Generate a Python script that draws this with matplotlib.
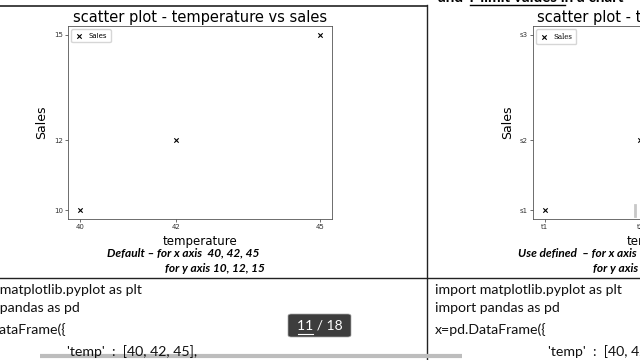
import matplotlib.pyplot as plt
import matplotlib.patches as patches
from matplotlib.lines import Line2D

# data
temp = [40, 42, 45]
sales = [10, 12, 15]
x_labels = ['t1', 't2', 't3']
y_labels = ['s1', 's2', 's3']

W, H = 640, 360
fig = plt.figure(figsize=(6.4, 3.6), dpi=100)
fig.patch.set_facecolor('white')


def px(x, y):
    # pixel (from top-left) to figure fraction
    return x / W, 1 - y / H


def box(left, top, right, bottom):
    return [left / W, 1 - bottom / H, (right - left) / W, (bottom - top) / H]


def hline(y, x0, x1, **kw):
    fig.add_artist(Line2D([x0 / W, x1 / W], [1 - y / H, 1 - y / H], transform=fig.transFigure, **kw))


def vline(x, y0, y1, **kw):
    fig.add_artist(Line2D([x / W, x / W], [1 - y0 / H, 1 - y1 / H], transform=fig.transFigure, **kw))


def scatter_panel(ax, legend_font):
    ax.scatter(temp, sales, marker='x', color='black', s=10, linewidths=0.8, label='Sales')
    ax.set_xticks(temp)
    ax.set_yticks(sales)
    ax.tick_params(labelsize=5, length=2, width=0.5, pad=1.5, colors='#333333')
    for s in ax.spines.values():
        s.set_linewidth(0.6)
        s.set_color('#555555')
    ax.set_title('scatter plot - temperature vs sales', fontsize=10.5, pad=3)
    ax.set_xlabel('temperature', fontsize=8.5, labelpad=4)
    ax.set_ylabel('Sales', fontsize=9, labelpad=4)
    ax.legend(loc='upper left', prop={'family': legend_font, 'size': 5},
              borderpad=0.5, handlelength=1.2, frameon=True, edgecolor='#cccccc')


# left chart - default ticks
ax1 = fig.add_axes(box(68, 26, 332, 219))
scatter_panel(ax1, 'DejaVu Sans')

# right chart - user defined ticks
ax2 = fig.add_axes(box(533, 26, 795, 219))
scatter_panel(ax2, 'DejaVu Serif')
ax2.set_xticklabels(x_labels)
ax2.set_yticklabels(y_labels)

# table lines
hline(6, 0, 427, color='#222222', lw=1.2)
vline(427, 5, 360, color='#222222', lw=1)
hline(278, 0, 640, color='#222222', lw=1)

# header (cut off at top)
fig.text(*px(438, 2), 'and Y limit values in a chart', fontsize=11, fontweight='bold',
         family='Lato', va='baseline', ha='left')
hline(4.5, 470, 565, color='black', lw=1)

# captions
cap = dict(fontsize=8.6, fontweight='bold', style='italic', family='Lato', va='center')
fig.text(*px(107, 253), 'Default \u2013 for x axis  40, 42, 45', ha='left', **cap)
fig.text(*px(265, 268), 'for y axis 10, 12, 15', ha='right', **cap)
fig.text(*px(518, 253), 'Use defined  \u2013 for x axis  t1, t2, t3', ha='left', **cap)
fig.text(*px(593, 268), 'for y axis s1, s2, s3', ha='left', **cap)

# code cells
code = ['import matplotlib.pyplot as plt', 'import pandas as pd', 'x=pd.DataFrame({']
code_y = [290, 308, 330]
ct = dict(fontsize=10.2, family='Lato', va='center', ha='left', color='#111111')
for line, yy in zip(code, code_y):
    fig.text(*px(-45, yy), line, **ct)
    fig.text(*px(435, yy), line, **ct)
fig.text(*px(67, 352), "'temp'  :  [40, 42, 45],", **ct)
fig.text(*px(548, 352), "'temp'  :  [40, 42, 45],", **ct)

# scroll bar
hline(356, 40, 462, color='#bdbdbd', lw=3, solid_capstyle='butt')
vline(635, 205, 216, color='#c8c8c8', lw=2)

# page indicator
fig.add_artist(patches.FancyBboxPatch(px(288, 337), 63 / W, 23 / H, transform=fig.transFigure,
                                      boxstyle='round,pad=0,rounding_size=0.005',
                                      facecolor='#3d3d3d', edgecolor='#aaaaaa', lw=0.5))
fig.text(*px(319.5, 325), '11 / 18', fontsize=10, color='white', ha='center', va='center', family='Lato')
hline(334, 298, 313, color='white', lw=0.8)

fig.savefig('out.png', dpi=100)
